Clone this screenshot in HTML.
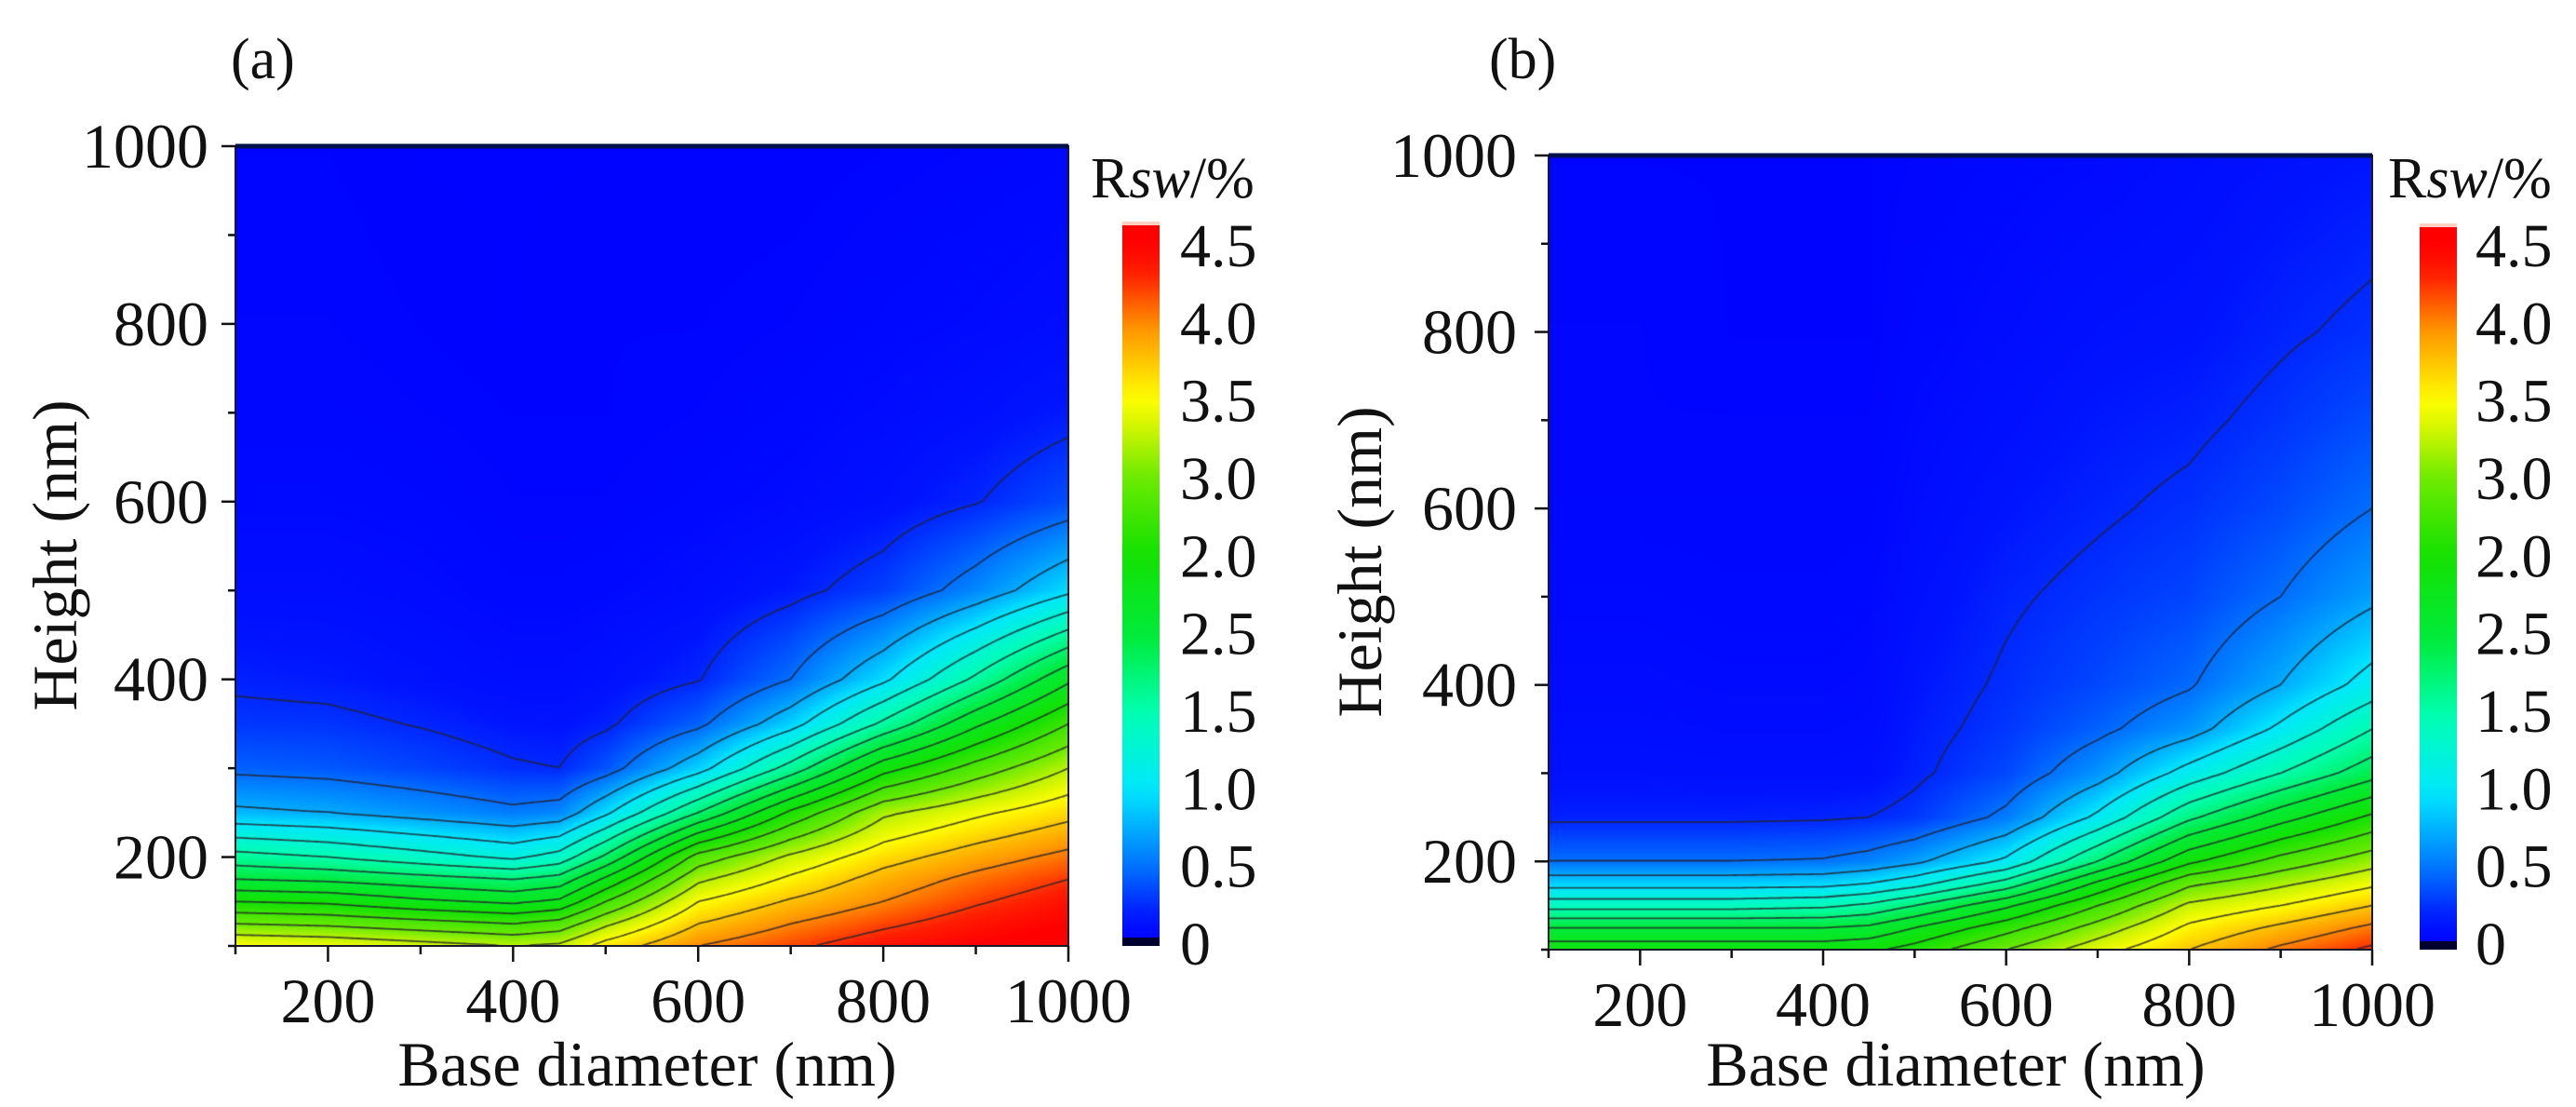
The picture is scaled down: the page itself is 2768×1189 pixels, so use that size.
<!DOCTYPE html>
<html><head><meta charset="utf-8">
<style>
html,body{margin:0;padding:0;background:#fff;}
#wrap{position:relative;width:2768px;height:1189px;overflow:hidden;background:#fff;}
canvas{position:absolute;}
svg{position:absolute;left:0;top:0;}
text{font-family:"Liberation Serif",serif;fill:#111;}
</style></head>
<body>
<div id="wrap">
<canvas id="cA"></canvas>
<canvas id="cB"></canvas>
<svg id="ov" width="2768" height="1189"></svg>
</div>
<script>
// ---- data ----
const diam = [100,200,300,400,450,500,600,700,800,900,1000];
const heights = [100,125,150,175,200,250,300,350,400,500,600,700,800,1000];
const zA = [
 [3.5,3.0,2.5,2.0,1.6,0.8,0.45,0.3,0.22,0.12,0.08,0.06,0.05,0.04],
 [3.45,2.95,2.45,1.95,1.5,0.75,0.42,0.29,0.2,0.12,0.08,0.06,0.05,0.04],
 [3.35,2.85,2.3,1.85,1.35,0.65,0.35,0.24,0.16,0.1,0.07,0.05,0.04,0.03],
 [3.25,2.75,2.2,1.75,1.2,0.55,0.27,0.18,0.12,0.07,0.05,0.04,0.03,0.03],
 [3.3,2.85,2.3,1.85,1.35,0.6,0.25,0.17,0.12,0.07,0.05,0.04,0.04,0.03],
 [3.6,3.2,2.75,2.3,1.8,0.95,0.4,0.22,0.15,0.08,0.05,0.04,0.04,0.03],
 [4.0,3.75,3.5,3.2,2.85,1.75,0.9,0.45,0.24,0.12,0.07,0.05,0.04,0.03],
 [4.2,4.0,3.78,3.55,3.3,2.55,1.6,0.9,0.5,0.2,0.1,0.07,0.05,0.03],
 [4.4,4.2,4.0,3.85,3.65,3.2,2.4,1.55,0.95,0.33,0.15,0.1,0.07,0.04],
 [4.5,4.38,4.22,4.07,3.88,3.45,2.85,2.2,1.55,0.6,0.24,0.14,0.09,0.05],
 [4.6,4.5,4.4,4.25,4.07,3.67,3.25,2.75,2.2,0.95,0.38,0.2,0.12,0.06]
];
const zB = [
 [2.4,2.0,1.4,0.9,0.5,0.22,0.15,0.12,0.1,0.08,0.06,0.05,0.05,0.04],
 [2.4,2.0,1.4,0.9,0.5,0.22,0.15,0.12,0.1,0.08,0.06,0.05,0.05,0.04],
 [2.4,2.0,1.4,0.9,0.5,0.22,0.14,0.11,0.09,0.07,0.06,0.05,0.04,0.04],
 [2.4,2.0,1.45,0.92,0.52,0.23,0.14,0.11,0.09,0.07,0.06,0.05,0.04,0.04],
 [2.45,2.05,1.55,1.0,0.58,0.25,0.15,0.12,0.1,0.08,0.06,0.05,0.04,0.04],
 [2.6,2.25,1.75,1.15,0.7,0.3,0.22,0.2,0.18,0.14,0.11,0.09,0.07,0.05],
 [3.0,2.65,2.2,1.6,1.05,0.55,0.36,0.3,0.27,0.23,0.18,0.14,0.11,0.07],
 [3.4,3.1,2.75,2.3,1.75,1.05,0.65,0.45,0.36,0.29,0.23,0.19,0.15,0.09],
 [3.75,3.55,3.3,2.95,2.45,1.7,1.1,0.65,0.48,0.35,0.28,0.22,0.17,0.12],
 [4.05,3.8,3.5,3.2,2.85,2.15,1.5,1.05,0.75,0.5,0.37,0.29,0.23,0.15],
 [4.3,4.05,3.75,3.45,3.15,2.55,1.9,1.5,1.1,0.7,0.5,0.38,0.28,0.18]
];
const levels = [0.25,0.5,0.75,1.0,1.25,1.5,1.75,2.0,2.25,2.5,2.75,3.0,3.25,3.5,3.75,4.0,4.25];
const xTicks = [200,400,600,800,1000];
const xMinor = [100,300,500,700,900];
const yTicks = [200,400,600,800,1000];
const yMinor = [100,300,500,700,900];
const cbLabels = ["4.5","4.0","3.5","3.0","2.0","2.5","1.5","1.0","0.5","0"];

// ---- colormap ----
const stops = [[0,[0,0,255]],[0.04,[0,20,255]],[0.11,[0,110,255]],[0.22,[0,230,255]],[0.33,[0,255,180]],
 [0.44,[0,235,60]],[0.56,[20,225,0]],[0.67,[110,235,0]],[0.74,[210,245,0]],[0.78,[255,255,0]],[0.88,[255,150,0]],[0.96,[255,30,0]],[1,[255,0,0]]];
function cmap(z){
  let t=Math.max(0,Math.min(1,z/4.5));
  for(let i=1;i<stops.length;i++){
    if(t<=stops[i][0]){const a=stops[i-1],b=stops[i];const f=(t-a[0])/(b[0]-a[0]);
      return [0,1,2].map(k=>Math.round(a[1][k]+(b[1][k]-a[1][k])*f));}
  }
  return stops[stops.length-1][1];
}
function findIdx(arr,v){for(let i=0;i<arr.length-2;i++){if(v<=arr[i+1])return i;}return arr.length-2;}
function zAt(Z,d,h){
  const i=findIdx(diam,d),j=findIdx(heights,h);
  const fx=Math.max(0,Math.min(1,(d-diam[i])/(diam[i+1]-diam[i])));
  const fy=Math.max(0,Math.min(1,(h-heights[j])/(heights[j+1]-heights[j])));
  const a=Z[i][j],b=Z[i+1][j],c=Z[i][j+1],e=Z[i+1][j+1];
  return a*(1-fx)*(1-fy)+b*fx*(1-fy)+c*(1-fx)*fy+e*fx*fy;
}

const panels=[
 {id:'cA',Z:zA,L:253,T:157,W:895,H:859,cbX:1206,cbT:238,cbB:1016,lab:'(a)',labX:248,cbLabX:1268,rswX:1172,ylabX:60,ytickR:224,key:'a'},
 {id:'cB',Z:zB,L:1664,T:167,W:885,H:853,cbX:2600,cbT:240,cbB:1020,lab:'(b)',labX:1600,cbLabX:2660,rswX:2566,ylabX:1462,ytickR:1630,key:'b'}
];

function drawPanel(p){
  const cv=document.getElementById(p.id);
  cv.width=p.W;cv.height=p.H;cv.style.left=p.L+'px';cv.style.top=p.T+'px';
  const ctx=cv.getContext('2d');
  const img=ctx.createImageData(p.W,p.H);
  const dOf=px=>100+px/p.W*900, hOf=py=>1000-py/p.H*900;
  for(let y=0;y<p.H;y++){const h=hOf(y+0.5);
    for(let x=0;x<p.W;x++){const c=cmap(zAt(p.Z,dOf(x+0.5),h));const k=(y*p.W+x)*4;
      img.data[k]=c[0];img.data[k+1]=c[1];img.data[k+2]=c[2];img.data[k+3]=255;}}
  ctx.putImageData(img,0,0);
  const s=3,nx=Math.ceil(p.W/s)+1,ny=Math.ceil(p.H/s)+1;
  const g=[];for(let j=0;j<ny;j++){g[j]=[];for(let i=0;i<nx;i++)g[j][i]=zAt(p.Z,dOf(Math.min(i*s,p.W)),hOf(Math.min(j*s,p.H)));}
  ctx.strokeStyle='rgba(35,35,45,0.8)';ctx.lineWidth=1.8;ctx.beginPath();
  levels.forEach(lv=>{
    for(let j=0;j<ny-1;j++)for(let i=0;i<nx-1;i++){
      const v=[g[j][i],g[j][i+1],g[j+1][i+1],g[j+1][i]];
      const P=[[i*s,j*s],[(i+1)*s,j*s],[(i+1)*s,(j+1)*s],[i*s,(j+1)*s]];
      const pts=[];
      for(let e=0;e<4;e++){const a=v[e],b=v[(e+1)%4];
        if((a<lv)!==(b<lv)){const f=(lv-a)/(b-a);const A=P[e],B=P[(e+1)%4];pts.push([A[0]+(B[0]-A[0])*f,A[1]+(B[1]-A[1])*f]);}}
      if(pts.length>=2){ctx.moveTo(pts[0][0],pts[0][1]);ctx.lineTo(pts[1][0],pts[1][1]);}
      if(pts.length===4){ctx.moveTo(pts[2][0],pts[2][1]);ctx.lineTo(pts[3][0],pts[3][1]);}
    }});
  ctx.stroke();
}
panels.forEach(drawPanel);

// ---- SVG overlay ----
const NS='http://www.w3.org/2000/svg';
const svg=document.getElementById('ov');
function el(tag,attrs,parent){const e=document.createElementNS(NS,tag);for(const k in attrs)e.setAttribute(k,attrs[k]);(parent||svg).appendChild(e);return e;}
const defs=el('defs',{});
panels.forEach(p=>{
  const X=d=>p.L+(d-100)/900*p.W, Y=h=>p.T+(1000-h)/900*p.H;
  const g=el('g',{});
  
  
  const fr=el('rect',{x:p.L,y:p.T,width:p.W,height:p.H,fill:'none',stroke:'#1a1a2a','stroke-width':2},g);
  
  
  el('line',{x1:p.L,y1:p.T,x2:p.L+p.W,y2:p.T,stroke:'#00104a','stroke-width':5},g);
  xTicks.forEach(v=>{
    el('line',{x1:X(v),y1:p.T+p.H,x2:X(v),y2:p.T+p.H+17,stroke:'#111','stroke-width':2.5},g);
    const t=el('text',{x:X(v),y:p.T+p.H+82,'font-size':68,'text-anchor':'middle'},g);t.textContent=v;
    
    
  });
  xMinor.forEach(v=>el('line',{x1:X(v),y1:p.T+p.H,x2:X(v),y2:p.T+p.H+9,stroke:'#111','stroke-width':2.5},g));
  yTicks.forEach(v=>{
    el('line',{x1:p.L,y1:Y(v),x2:p.L-15,y2:Y(v),stroke:'#111','stroke-width':2.5},g);
    const t=el('text',{x:p.ytickR,y:Y(v)+23,'font-size':68,'text-anchor':'end'},g);t.textContent=v;
    
    
  });
  yMinor.forEach(v=>el('line',{x1:p.L,y1:Y(v),x2:p.L-8,y2:Y(v),stroke:'#111','stroke-width':2.5},g));
  const xt=el('text',{x:p.L+p.W/2-5,y:1166,'font-size':68,'text-anchor':'middle'},g);xt.textContent='Base diameter (nm)';
  
  
  const yc=(p.T+p.T+p.H)/2+10;
  const yt=el('text',{x:p.ylabX,y:yc,'font-size':68,'text-anchor':'middle',transform:`rotate(-90 ${p.ylabX} ${yc})`,dy:22},g);yt.textContent='Height (nm)';
  
  
  const pl=el('text',{x:p.labX,y:84,'font-size':62},g);pl.textContent=p.lab;
  
  
  const gid='grad'+p.key;
  const lg=el('linearGradient',{id:gid,x1:0,y1:1,x2:0,y2:0},defs);
  const top=4.65;
  for(let k=0;k<=40;k++){const z=top*k/40;const c=cmap(z);el('stop',{offset:(k/40),'stop-color':`rgb(${c[0]},${c[1]},${c[2]})`},lg);}
  const cb=el('rect',{x:p.cbX,y:p.cbT,width:40,height:p.cbB-p.cbT,fill:`url(#${gid})`},g);
  
  
  el('rect',{x:p.cbX,y:p.cbB-9,width:40,height:9,fill:'#000030'},g);
  el('rect',{x:p.cbX,y:p.cbT,width:40,height:4,fill:'#ffd0c0'},g);
  cbLabels.forEach((s,i)=>{
    const t=el('text',{x:p.cbLabX,y:263+i*83.33+23,'font-size':66},g);t.textContent=s;
    
    
  });
  const rt=el('text',{x:p.rswX,y:212,'font-size':62},g);
  
  
  const t1=el('tspan',{},rt);t1.textContent='R';
  const t2=el('tspan',{'font-style':'italic'},rt);t2.textContent='sw';
  const t3=el('tspan',{},rt);t3.textContent='/%';
});
</script>
</body></html>
